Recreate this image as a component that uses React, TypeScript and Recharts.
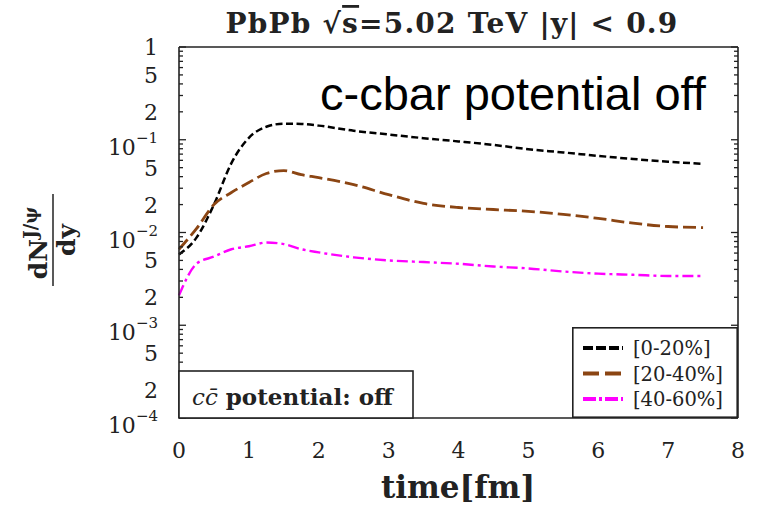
import React from 'react';
import { LineChart, Line, XAxis, YAxis, Legend } from 'recharts';

// ---- data ----
const times = [0, 0.25, 0.5, 0.75, 1, 1.25, 1.5, 1.75, 2, 2.5, 3, 3.5, 4, 4.5, 5, 5.5, 6, 6.5, 7, 7.5];
const cent0to20 = [0.0058, 0.0088, 0.02, 0.056, 0.105, 0.138, 0.149, 0.148, 0.142, 0.125, 0.114, 0.104, 0.096, 0.088, 0.079, 0.073, 0.067, 0.062, 0.058, 0.055];
const cent20to40 = [0.0066, 0.011, 0.02, 0.027, 0.0346, 0.0433, 0.0465, 0.042, 0.039, 0.0328, 0.0256, 0.0206, 0.0186, 0.0177, 0.0169, 0.0157, 0.0142, 0.0126, 0.0116, 0.0113];
const cent40to60 = [0.0021, 0.0046, 0.0055, 0.0066, 0.0071, 0.0078, 0.0075, 0.0066, 0.0061, 0.0054, 0.005, 0.0048, 0.0046, 0.0043, 0.0041, 0.0038, 0.0036, 0.0035, 0.0034, 0.0034];

const seriesKeys = ['c0', 'c1', 'c2'];
const seriesNames = ['[0-20%]', '[20-40%]', '[40-60%]'];
const seriesColors = ['#000000', '#8B4513', '#FF00FF'];
const seriesDashes = ['7 3.5', '13 5', '11 4 3 4'];
const seriesWidths = [2.5, 2.8, 2.4];
const legendDashes = ['10 3', '16 6', '13 3 3 3'];

const xTicks = [0, 1, 2, 3, 4, 5, 6, 7, 8];
const yDecades = [1e-4, 1e-3, 1e-2, 1e-1];
const yMantissas = [1, 2, 3, 4, 5, 6, 7, 8, 9];
const yLabeledMantissas = [1, 2, 5];
const yTicks = [...yDecades.flatMap((d) => yMantissas.map((m) => m * d)), 1];

const titleText = 'PbPb';
const annotationText = 'c-cbar potential off';

const data = times.map((t, i) => ({
  t,
  c0: cent0to20[i],
  c1: cent20to40[i],
  c2: cent40to60[i],
}));

const SERIF = 'DejaVu Serif';
const INK = '#222';

const splitValue = (v: number) => {
  const e = Math.floor(Math.log10(v) + 1e-9);
  const m = Math.round(v / Math.pow(10, e));
  return { e, m };
};

const LeftTick = (props: any) => {
  const { x, y, payload } = props;
  const { e, m } = splitValue(payload.value);
  const major = m === 1;
  const len = major ? 7 : 4;
  let label: any = null;
  if (yLabeledMantissas.includes(m)) {
    if (major && e !== 0) {
      label = (
        <text x={x - 21} y={y + 15} textAnchor="end" fontFamily={SERIF} fontSize={22} fill={INK}>
          10
          <tspan dy={-12} fontSize={15}>{'\u2212' + Math.abs(e)}</tspan>
        </text>
      );
    } else {
      label = (
        <text x={x - 21} y={y + 8} textAnchor="end" fontFamily={SERIF} fontSize={22} fill={INK}>
          {major ? '1' : String(m)}
        </text>
      );
    }
  }
  return (
    <g>
      <line x1={x} x2={x + len} y1={y} y2={y} stroke={INK} strokeWidth={1.3} />
      {label}
    </g>
  );
};

const RightTick = (props: any) => {
  const { x, y, payload } = props;
  const { m } = splitValue(payload.value);
  const len = m === 1 ? 7 : 4;
  return <line x1={x - len} x2={x} y1={y} y2={y} stroke={INK} strokeWidth={1.3} />;
};

const LegendBox = () => (
  <svg width={166} height={91} style={{ display: 'block' }}>
    <rect x={0.8} y={0.8} width={164.4} height={89.4} fill="#fff" stroke={INK} strokeWidth={1.6} />
    {seriesNames.map((n, i) => {
      const cy = 21 + i * 25.5;
      return (
        <g key={n}>
          <line x1={11} y1={cy} x2={51} y2={cy} stroke={seriesColors[i]} strokeWidth={3.8} strokeDasharray={legendDashes[i]} />
          <text x={61} y={cy + 7} fontFamily={SERIF} fontSize={19.5} fill={INK}>
            {n}
          </text>
        </g>
      );
    })}
  </svg>
);

export default function App() {
  return (
    <div style={{ position: 'absolute', left: 0, top: 0, width: 761, height: 516, background: '#fff' }}>
      <LineChart width={761} height={516} data={data} margin={{ top: 46, right: 0, bottom: 38, left: 0 }}>
        <XAxis
          xAxisId="b"
          dataKey="t"
          type="number"
          domain={[0, 8]}
          ticks={xTicks}
          interval={0}
          height={60}
          tickSize={0}
          tickMargin={24}
          tickLine={false}
          axisLine={{ stroke: INK, strokeWidth: 1.6 }}
          tick={{ fontFamily: SERIF, fontSize: 22, fill: INK }}
        />
        <XAxis
          xAxisId="t"
          orientation="top"
          dataKey="t"
          type="number"
          domain={[0, 8]}
          height={1}
          tick={false}
          tickLine={false}
          axisLine={{ stroke: INK, strokeWidth: 1.6 }}
        />
        <YAxis
          yAxisId="l"
          scale="log"
          type="number"
          domain={[1e-4, 1]}
          allowDataOverflow
          ticks={yTicks}
          interval={0}
          width={179}
          tickSize={0}
          tickMargin={0}
          tickLine={false}
          axisLine={{ stroke: INK, strokeWidth: 1.6 }}
          tick={<LeftTick />}
        />
        <YAxis
          yAxisId="r"
          orientation="right"
          scale="log"
          type="number"
          domain={[1e-4, 1]}
          allowDataOverflow
          ticks={yTicks}
          interval={0}
          width={23}
          tickSize={0}
          tickMargin={0}
          tickLine={false}
          axisLine={{ stroke: INK, strokeWidth: 1.6 }}
          tick={<RightTick />}
        />
        {seriesKeys.map((k, i) => (
          <Line
            key={k}
            xAxisId="b"
            yAxisId="l"
            dataKey={k}
            name={seriesNames[i]}
            type="monotone"
            stroke={seriesColors[i]}
            strokeWidth={seriesWidths[i]}
            strokeDasharray={seriesDashes[i]}
            dot={false}
            activeDot={false}
            isAnimationActive={false}
          />
        ))}
        <Legend
          layout="horizontal"
          verticalAlign="middle"
          align="center"
          content={<LegendBox />}
          wrapperStyle={{ left: 572, top: 327, width: 166, height: 91 }}
        />
      </LineChart>
      <svg width={761} height={516} style={{ position: 'absolute', left: 0, top: 0, pointerEvents: 'none' }}>
        <text x={452} y={33} textAnchor="middle" fontFamily={SERIF} fontWeight="bold" fontSize={28} letterSpacing={1.2} fill={INK}>
          {titleText} {'\u221A'}
          <tspan style={{ textDecoration: 'overline' }}>s</tspan>
          =5.02 TeV |y| &lt; 0.9
        </text>
        <text x={320} y={110} fontFamily="Liberation Sans, Arial, sans-serif" fontSize={47} fill="#000">
          {annotationText}
        </text>
        <g transform="translate(53,240) rotate(-90)">
          <text x={-3} y={-6} textAnchor="middle" fontFamily={SERIF} fontWeight="bold" fontSize={25} fill={INK}>
            dN
            <tspan dy={-10} fontSize={18}>J/{'\u03C8'}</tspan>
          </text>
          <line x1={-46} x2={46} y1={0} y2={0} stroke={INK} strokeWidth={1.5} />
          <text x={0} y={22} textAnchor="middle" fontFamily={SERIF} fontWeight="bold" fontSize={25} fill={INK}>
            dy
          </text>
        </g>
        <rect x={179} y={371} width={234} height={47} fill="#fff" stroke={INK} strokeWidth={1.6} />
        <text x={192} y={405} fontFamily={SERIF} fontSize={23} fill={INK}>
          <tspan fontStyle="italic">c{'c\u0304'}</tspan>
          <tspan fontWeight="bold"> potential: off</tspan>
        </text>
        <text x={458} y={498} textAnchor="middle" fontFamily={SERIF} fontWeight="bold" fontSize={31} fill={INK}>
          time[fm]
        </text>
      </svg>
    </div>
  );
}
